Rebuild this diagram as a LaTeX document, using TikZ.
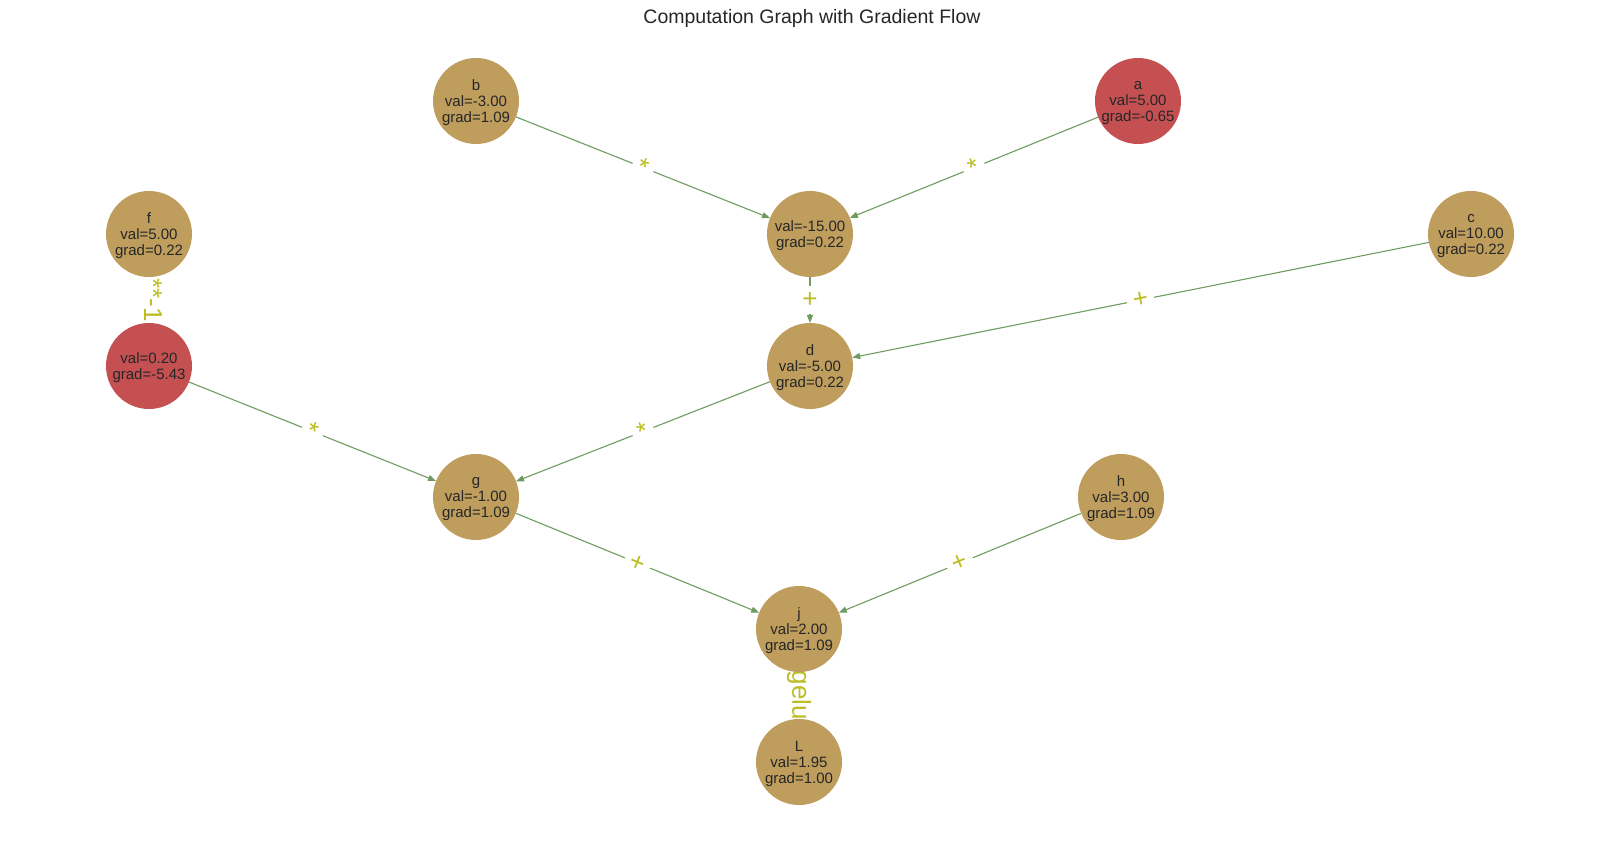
\documentclass[tikz,border=0pt]{standalone}
\usepackage{fontspec}
\setmainfont{Liberation Sans}
\usetikzlibrary{arrows.meta}
\definecolor{nodetan}{RGB}{190,157,93}
\definecolor{nodered}{RGB}{196,80,82}
\definecolor{edgecol}{RGB}{112,155,96}
\definecolor{lblcol}{RGB}{188,189,34}
\definecolor{txtcol}{RGB}{38,38,38}
\pgfdeclarelayer{background}
\pgfsetlayers{background,main}
\begin{document}
\begin{tikzpicture}[x=1pt,y=-1pt,
  gnode/.style={circle, fill=nodetan, minimum size=86pt, inner sep=0pt, outer sep=0pt},
  rnode/.style={gnode, fill=nodered},
  ntext/.style={yshift=-2pt, inner sep=0pt, align=center, text=txtcol, font=\fontsize{15}{16}\selectfont},
  conn/.style={draw=edgecol, line width=1.1pt, -{Triangle[length=8pt,width=6pt]}},
  lbl/.style={fill=white, text=lblcol, inner sep=6pt, font=\fontsize{26}{26}\selectfont},
]
\useasboundingbox (0,0) rectangle (1620,842);
\node[text=txtcol, font=\fontsize{19.5}{20}\selectfont] (title) at (812,18) {Computation Graph with Gradient Flow};

\node[gnode, label={[ntext]center:{b\\val=-3.00\\grad=1.09}}] (b) at (476,101) {};
\node[rnode, label={[ntext]center:{a\\val=5.00\\grad=-0.65}}] (a) at (1138,101) {};
\node[gnode, label={[ntext]center:{f\\val=5.00\\grad=0.22}}] (f) at (149,234) {};
\node[gnode, label={[ntext]center:{val=-15.00\\grad=0.22}}] (m1) at (810,234) {};
\node[gnode, label={[ntext]center:{c\\val=10.00\\grad=0.22}}] (c) at (1471,234) {};
\node[rnode, label={[ntext]center:{val=0.20\\grad=-5.43}}] (inv) at (149,366) {};
\node[gnode, label={[ntext]center:{d\\val=-5.00\\grad=0.22}}] (d) at (810,366) {};
\node[gnode, label={[ntext]center:{g\\val=-1.00\\grad=1.09}}] (g) at (476,497) {};
\node[gnode, label={[ntext]center:{h\\val=3.00\\grad=1.09}}] (h) at (1121,497) {};
\node[gnode, label={[ntext]center:{j\\val=2.00\\grad=1.09}}] (j) at (799,629) {};
\node[gnode, label={[ntext]center:{L\\val=1.95\\grad=1.00}}] (L) at (799,762) {};

\begin{pgfonlayer}{background}
\draw[conn] (b) -- node[lbl, sloped] {*} (m1);
\draw[conn] (a) -- node[lbl, sloped] {*} (m1);
\draw[conn] (m1) -- node[lbl] {+} (d);
\draw[conn] (c) -- node[lbl, sloped] {+} (d);
\draw[conn] (f) -- node[lbl, rotate=-90, yshift=4pt] {**-1} (inv);
\draw[conn] (inv) -- node[lbl, sloped] {*} (g);
\draw[conn] (d) -- node[lbl, sloped] {*} (g);
\draw[conn] (g) -- node[lbl, sloped] {+} (j);
\draw[conn] (h) -- node[lbl, sloped] {+} (j);
\draw[conn] (j) -- node[lbl, rotate=-90] {gelu} (L);
\end{pgfonlayer}
\end{tikzpicture}
\end{document}
